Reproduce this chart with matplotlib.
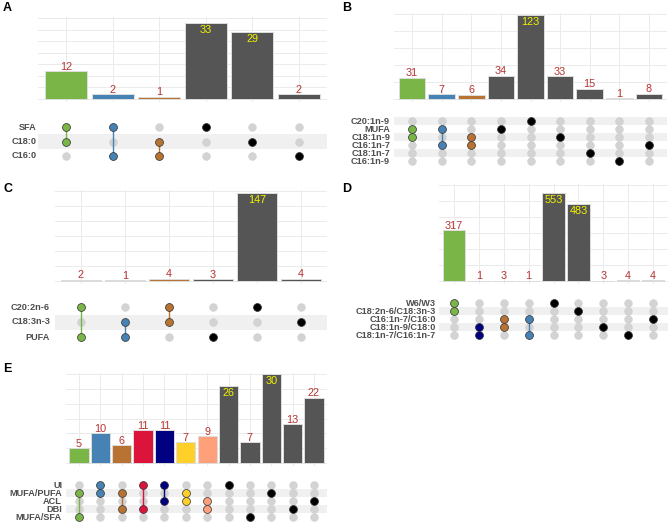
import matplotlib
matplotlib.use("Agg")
import matplotlib.pyplot as plt

W, H = 669, 530
plt.rcParams['font.family'] = ['Liberation Sans', 'DejaVu Sans']

GREEN = "#7AB547"
BLUE = "#4682B4"
BROWN = "#B87333"
GRAY = "#555555"
NAVY = "#000080"
CRIMSON = "#DC143C"
GOLD = "#FFD02A"
SALMON = "#FFA07A"

# ---------------- data ----------------
sets_A = ["SFA", "C18:0", "C16:0"]
counts_A = [12, 2, 1, 33, 29, 2]
members_A = [["SFA", "C18:0"], ["SFA", "C16:0"], ["C18:0", "C16:0"],
             ["SFA"], ["C18:0"], ["C16:0"]]
colors_A = [GREEN, BLUE, BROWN, GRAY, GRAY, GRAY]

sets_B = ["C20:1n-9", "MUFA", "C18:1n-9", "C16:1n-7", "C18:1n-7", "C16:1n-9"]
counts_B = [31, 7, 6, 34, 123, 33, 15, 1, 8]
members_B = [["MUFA", "C18:1n-9"], ["MUFA", "C16:1n-7"], ["C18:1n-9", "C16:1n-7"],
             ["MUFA"], ["C20:1n-9"], ["C18:1n-9"], ["C18:1n-7"], ["C16:1n-9"], ["C16:1n-7"]]
colors_B = [GREEN, BLUE, BROWN, GRAY, GRAY, GRAY, GRAY, GRAY, GRAY]

sets_C = ["C20:2n-6", "C18:3n-3", "PUFA"]
counts_C = [2, 1, 4, 3, 147, 4]
members_C = [["C20:2n-6", "PUFA"], ["C18:3n-3", "PUFA"], ["C20:2n-6", "C18:3n-3"],
             ["PUFA"], ["C20:2n-6"], ["C18:3n-3"]]
colors_C = [GREEN, BLUE, BROWN, GRAY, GRAY, GRAY]

sets_D = ["W6/W3", "C18:2n-6/C18:3n-3", "C16:1n-7/C16:0", "C18:1n-9/C18:0", "C18:1n-7/C16:1n-7"]
counts_D = [317, 1, 3, 1, 553, 483, 3, 4, 4]
members_D = [["W6/W3", "C18:2n-6/C18:3n-3"], ["C18:1n-9/C18:0", "C18:1n-7/C16:1n-7"],
             ["C16:1n-7/C16:0", "C18:1n-9/C18:0"], ["C16:1n-7/C16:0", "C18:1n-7/C16:1n-7"],
             ["W6/W3"], ["C18:2n-6/C18:3n-3"], ["C18:1n-9/C18:0"], ["C18:1n-7/C16:1n-7"],
             ["C16:1n-7/C16:0"]]
colors_D = [GREEN, NAVY, BROWN, BLUE, GRAY, GRAY, GRAY, GRAY, GRAY]

sets_E = ["UI", "MUFA/PUFA", "ACL", "DBI", "MUFA/SFA"]
counts_E = [5, 10, 6, 11, 11, 7, 9, 26, 7, 30, 13, 22]
members_E = [["MUFA/PUFA", "MUFA/SFA"], ["UI", "MUFA/PUFA"], ["MUFA/PUFA", "DBI"],
             ["UI", "DBI"], ["UI", "ACL"], ["MUFA/PUFA", "ACL"], ["ACL", "DBI"],
             ["UI"], ["MUFA/SFA"], ["MUFA/PUFA"], ["DBI"], ["ACL"]]
colors_E = [GREEN, BLUE, BROWN, CRIMSON, NAVY, GOLD, SALMON,
            GRAY, GRAY, GRAY, GRAY, GRAY]

fig = plt.figure(figsize=(W / 100, H / 100), dpi=100)


def ax_px(left, top, right, bottom):
    return fig.add_axes([left / W, 1 - bottom / H, (right - left) / W, (bottom - top) / H])


def upset(letter, letter_xy, sets, counts, members, colors,
          c0, cn, base_px, gmax, gmax_px, step, row0_px, row_sp, label_x):
    n = len(counts)
    sp = (cn - c0) / (n - 1)
    left = c0 - 0.6 * sp
    right = cn + 0.6 * sp
    ppu = (base_px - gmax_px) / gmax
    # ----- bar axes
    ax = ax_px(left, gmax_px - 1, right, base_px + 3)
    ax.set_xlim(-0.6, n - 0.4)
    ax.set_ylim(-3 / ppu, gmax + 1 / ppu)
    for s in ["top", "right", "left", "bottom"]:
        ax.spines[s].set_visible(False)
    ax.set_xticks([]); ax.set_yticks([])
    v = 0
    while v <= gmax + 1e-9:
        ax.axhline(v, color="#EBEBEB", lw=0.7, zorder=0)
        v += step
    for i in range(n):
        ax.axvline(i, color="#EBEBEB", lw=0.7, zorder=0)
    xs = list(range(n))
    ax.bar(xs, counts, width=0.9, color=colors, edgecolor="#DDDDDD", linewidth=0.7, zorder=2)
    mx = max(counts)
    for i, c in enumerate(counts):
        if c > 0.8 * mx:
            ax.text(i, c - 2 / ppu, str(c), ha="center", va="top", color="#F2F200",
                    fontsize=7.8, zorder=3)
        else:
            ax.text(i, c - 0.5 / ppu, str(c), ha="center", va="bottom", color="#B83434",
                    fontsize=7.8, zorder=3)
    # ----- matrix axes
    nr = len(sets)
    last_px = row0_px + (nr - 1) * row_sp
    mx_ax = ax_px(left, row0_px - row_sp / 2, right, last_px + row_sp / 2)
    mx_ax.set_xlim(-0.6, n - 0.4)
    mx_ax.set_ylim(-0.5, nr - 0.5)
    for s in ["top", "right", "left", "bottom"]:
        mx_ax.spines[s].set_visible(False)
    mx_ax.set_xticks([]); mx_ax.set_yticks([])
    ypos = {name: nr - 1 - k for k, name in enumerate(sets)}
    for k in range(nr):
        if k % 2 == 1:
            mx_ax.axhspan(k - 0.5, k + 0.5, color="#F0F0F0", lw=0, zorder=0)
    for i in range(n):
        mx_ax.scatter([i] * nr, list(range(nr)), s=32, color="#D3D3D3",
                      edgecolor="#CCCCCC", linewidth=0.3, zorder=1)
    for i in range(n):
        ys = [ypos[m] for m in members[i]]
        col = colors[i] if colors[i] != GRAY else "black"
        if len(ys) > 1:
            mx_ax.plot([i, i], [min(ys), max(ys)], color=col, lw=1.0, zorder=2)
        mx_ax.scatter([i] * len(ys), ys, s=32, color=col, edgecolor="#333333",
                      linewidth=0.5, zorder=3)
    for k, name in enumerate(sets):
        fig.text(label_x / W, 1 - (row0_px + k * row_sp) / H, name, ha="right", va="center",
                 fontsize=6.6, fontweight="bold", color="#4D4D4D")
    fig.text(letter_xy[0] / W, 1 - letter_xy[1] / H, letter, ha="left", va="center",
             fontsize=9, fontweight="bold", color="black")


upset("A", (3, 8), sets_A, counts_A, members_A, colors_A,
      66, 299, 99, 35, 18, 5, 127, 14.5, 37)
upset("B", (342, 8), sets_B, counts_B, members_B, colors_B,
      412, 649, 99, 125, 13.5, 25, 121, 8, 390)
upset("C", (3, 189), sets_C, counts_C, members_C, colors_C,
      81, 301, 281, 150, 191, 25, 307, 15, 50)
upset("D", (342, 189), sets_D, counts_D, members_D, colors_D,
      454, 653, 281, 600, 185, 100, 303, 8, 436)
upset("E", (3, 369), sets_E, counts_E, members_E, colors_E,
      79, 314, 463, 30, 374, 5, 485, 8, 62)

fig.savefig("out.png", dpi=100, facecolor="white")
